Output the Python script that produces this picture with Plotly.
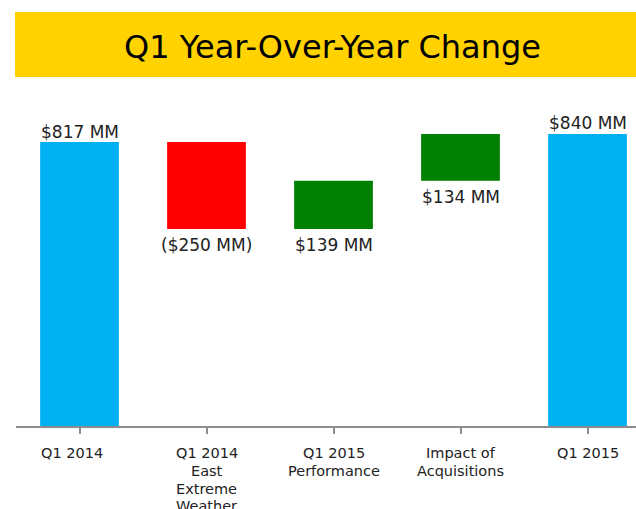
import plotly.graph_objects as go

categories = ["Q1 2014", "Q1 2014<br>East<br>Extreme<br>Weather", "Q1 2015<br>Performance",
              "Impact of<br>Acquisitions", "Q1 2015"]
values = [817, -250, 139, 134, 840]
measures = ["absolute", "relative", "relative", "relative", "total"]
value_labels = ["$817 MM", "($250 MM)", "$139 MM", "$134 MM", "$840 MM"]
title_text = "Q1 Year-Over-Year Change"

W, H = 636, 509
ML, MR, MT, MB = 16, 0, 90, 83
plot_w = W - ML - MR
plot_h = H - MT - MB
px_per_cat = 127.0
px_per_mm = 0.3475
base_y = H - MB

fig = go.Figure(go.Waterfall(
    x=list(range(len(categories))),
    y=values,
    measure=measures,
    width=0.62,
    increasing=dict(marker=dict(color="#008000")),
    decreasing=dict(marker=dict(color="#FF0000")),
    totals=dict(marker=dict(color="#00B0F0")),
    connector=dict(visible=False),
    hoverinfo="skip",
    showlegend=False,
))

running = 0
annotations = []
for i, (v, m, lab) in enumerate(zip(values, measures, value_labels)):
    if m == "absolute":
        running = v
        annotations.append(dict(x=i, y=running, text=lab, yanchor="bottom", yshift=-2))
    elif m == "total":
        annotations.append(dict(x=i, y=running, text=lab, yanchor="bottom", yshift=-1))
    else:
        low = min(running, running + v)
        running += v
        annotations.append(dict(x=i, y=low, text=lab, yanchor="top", yshift=-4))
for a in annotations:
    a.update(xref="x", yref="y", showarrow=False, xanchor="center",
             font=dict(family="DejaVu Sans", size=17, color="#222222"))

# category labels, one line each for exact line spacing
label_nudge = {0: -8}
for i, cat in enumerate(categories):
    for k, line in enumerate(cat.split("<br>")):
        annotations.append(dict(xref="x", yref="paper", x=i, y=0, text=line,
                                showarrow=False, xanchor="center", yanchor="middle",
                                xshift=label_nudge.get(i, 0),
                                yshift=-(27.3 + 17.6 * k),
                                font=dict(family="DejaVu Sans", size=14.5, color="#222222")))

annotations.append(dict(xref="paper", yref="paper",
                        x=(332 - ML) / plot_w, y=(base_y - 47) / plot_h,
                        text=title_text, showarrow=False, xanchor="center", yanchor="middle",
                        font=dict(family="DejaVu Sans", size=32, color="#000000")))

fig.update_layout(
    width=W, height=H,
    margin=dict(l=ML, r=MR, t=MT, b=MB, pad=0),
    paper_bgcolor="white", plot_bgcolor="white",
    annotations=annotations,
    shapes=[dict(type="rect", xref="paper", yref="paper",
                 x0=(15 - ML) / plot_w, x1=1.02,
                 y0=(base_y - 77) / plot_h, y1=(base_y - 12) / plot_h,
                 fillcolor="#FFD200", line=dict(width=0), layer="below")],
    xaxis=dict(
        range=[-0.5, -0.5 + plot_w / px_per_cat],
        tickmode="array", tickvals=list(range(len(categories))), ticktext=categories,
        tickson="boundaries", ticks="outside", ticklen=6, tickwidth=1.5,
        tickcolor="#8c8c8c", showline=True, linecolor="#8c8c8c", linewidth=2,
        showgrid=False, zeroline=False, fixedrange=True, showticklabels=False,
    ),
    yaxis=dict(range=[0, plot_h / px_per_mm], visible=False, showgrid=False,
               zeroline=False, fixedrange=True),
)

fig.write_html("out.html", config={"displayModeBar": False},
               post_script="document.body.style.margin='0';document.body.style.overflow='hidden';")
